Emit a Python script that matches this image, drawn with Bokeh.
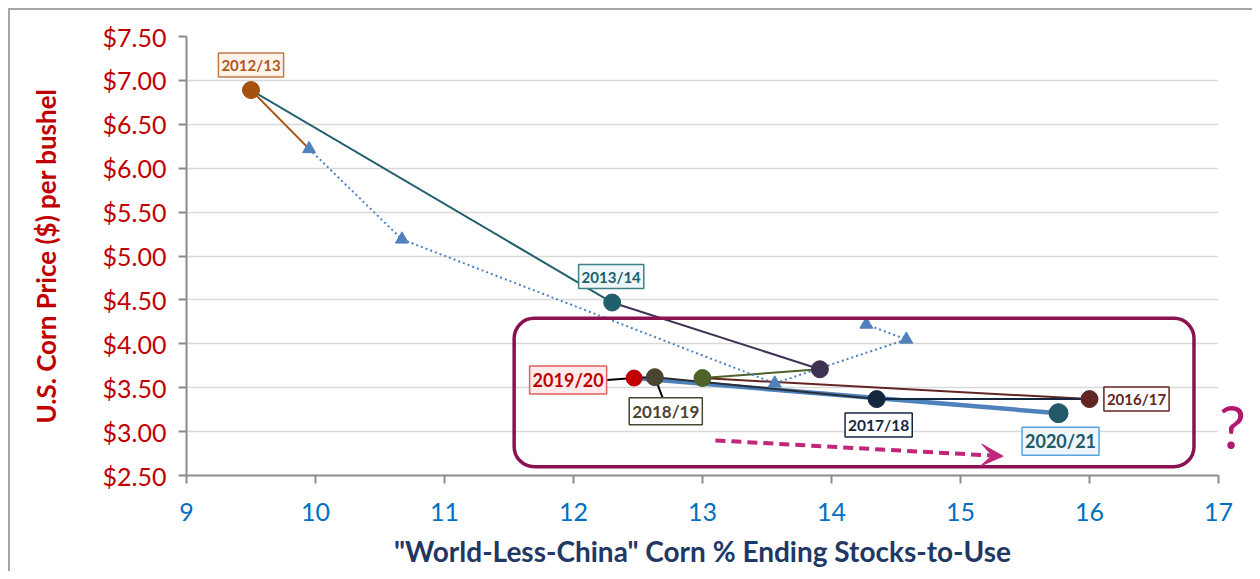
from bokeh.plotting import figure
from bokeh.layouts import row
from bokeh.models import (Range1d, FixedTicker, PrintfTickFormatter, Label,
                          BoxAnnotation, Arrow, VeeHead)
from bokeh.embed import file_html
from bokeh.resources import INLINE

# ---------------- data ----------------
years = ["2012/13", "2013/14", "2014/15", "2015/16", "2016/17",
         "2017/18", "2018/19", "2019/20", "2020/21"]
stocks_to_use = [9.50, 12.30, 13.91, 13.00, 16.00, 14.35, 12.63, 12.47, 15.76]
corn_price = [6.89, 4.47, 3.71, 3.61, 3.37, 3.37, 3.62, 3.61, 3.21]
point_colors = ["#A5520F", "#215F6B", "#3F3151", "#4F6228", "#632523",
                "#14273F", "#4A4530", "#C00000", "#215968"]
point_sizes = [17, 17, 17, 17, 17, 17, 17, 16, 19]

proj_x = [9.95, 10.67, 13.56, 14.58, 14.27]
proj_y = [6.22, 5.19, 3.55, 4.05, 4.22]

x_ticks = [9, 10, 11, 12, 13, 14, 15, 16, 17]
y_ticks = [2.5, 3.0, 3.5, 4.0, 4.5, 5.0, 5.5, 6.0, 6.5, 7.0, 7.5]

FONT = "Lato"

# ---------------- figure ----------------
W, H = 1244, 563
FW, FH = 1032, 439
BL, BT = 176, 26
p = figure(width=W, height=H, x_range=Range1d(9, 17), y_range=Range1d(2.5, 7.5),
           output_backend="svg", toolbar_location=None,
           min_border_left=BL, min_border_top=BT, min_border_right=W - BL - FW,
           min_border_bottom=H - BT - FH)
p.outline_line_color = None
p.background_fill_color = "white"
p.border_fill_color = "white"
p.styles = {"margin-left": "8px", "margin-top": "8px",
            "border-top": "2px solid #A6A6A6", "border-left": "2px solid #A6A6A6"}

px_x = FW / (17 - 9)
px_y = FH / (7.5 - 2.5)

p.xgrid.grid_line_color = None
p.ygrid.grid_line_color = "#D9D9D9"
p.ygrid.grid_line_width = 1.5
p.ygrid.ticker = FixedTicker(ticks=y_ticks)

p.yaxis.ticker = FixedTicker(ticks=y_ticks)
p.yaxis.formatter = PrintfTickFormatter(format="$%.2f")
p.xaxis.ticker = FixedTicker(ticks=x_ticks)
for ax in (p.xaxis, p.yaxis):
    ax.axis_line_color = "#8C8C8C"
    ax.axis_line_width = 2
    ax.major_tick_line_color = "#8C8C8C"
    ax.major_tick_line_width = 2
    ax.major_tick_out = 8
    ax.major_tick_in = 0
    ax.minor_tick_line_color = None
    ax.major_label_text_font = FONT
    ax.major_label_text_font_size = "25px"
p.yaxis.major_label_text_color = "#C00000"
p.yaxis.major_label_standoff = 12
p.xaxis.major_label_text_color = "#0070C0"
p.xaxis.major_label_standoff = 19

p.yaxis.axis_label = "U.S. Corn Price ($) per bushel"
p.yaxis.axis_label_text_font = FONT
p.yaxis.axis_label_text_font_style = "bold"
p.yaxis.axis_label_text_font_size = "26px"
p.yaxis.axis_label_text_color = "#C00000"
p.yaxis.axis_label_standoff = 38

p.xaxis.axis_label = '"World-Less-China" Corn % Ending Stocks-to-Use'
p.xaxis.axis_label_text_font = FONT
p.xaxis.axis_label_text_font_style = "bold"
p.xaxis.axis_label_text_font_size = "28px"
p.xaxis.axis_label_text_color = "#1F3864"
p.xaxis.axis_label_standoff = 10

# ---------------- lines ----------------
p.line(stocks_to_use[7:9], corn_price[7:9], line_color="#4F81BD", line_width=4.5)
seg_colors = ["#215F6B", "#3F3151", "#4F6228", "#632523", "#14273F", "#2A2F35", "#1A1A1A"]
for i in range(7):
    p.line(stocks_to_use[i:i + 2], corn_price[i:i + 2], line_color=seg_colors[i], line_width=2)
p.line([stocks_to_use[0], proj_x[0]], [corn_price[0], proj_y[0]], line_color="#A5520F", line_width=2)
p.line(proj_x, proj_y, line_color="#4F81BD", line_width=2, line_dash="2 3")
p.scatter(proj_x, proj_y, marker="triangle", size=13, fill_color="#4F81BD", line_color="#4F81BD")

# label connectors
p.line([stocks_to_use[7], stocks_to_use[7] - 27 / px_x], [corn_price[7], corn_price[7] - 2 / px_y],
       line_color="black", line_width=2)
p.line([stocks_to_use[6], stocks_to_use[6] + 8 / px_x], [corn_price[6], corn_price[6] - 21 / px_y],
       line_color="black", line_width=2)

p.scatter(stocks_to_use, corn_price, marker="circle", size=point_sizes,
          fill_color=point_colors, line_color=point_colors)

# ---------------- labels ----------------
lab = [
    (0, 0, 25, "15px", "#B0581A", "#FDF3EB", "#C07A45"),
    (1, -1, 26, "15px", "#215F6B", "#EEF6F7", "#3E7F8A"),
    (4, 47, 0, "15px", "#632523", "white", "#632523"),
    (5, 2, -26, "15.5px", "#14273F", "white", "#14273F"),
    (6, 11, -34, "17px", "#4A4530", "white", "#4A4530"),
    (7, -66, -2, "18px", "#C00000", "#FDEBEB", "#E06060"),
    (8, 2, -28, "18px", "#215968", "#EFF6FB", "#5BA3D9"),
]
for idx, dx, dy, fs, tc, fc, bc in lab:
    p.add_layout(Label(x=stocks_to_use[idx], y=corn_price[idx], x_offset=dx, y_offset=dy,
                       text=years[idx], text_align="center", text_baseline="middle",
                       text_font=FONT, text_font_style="bold", text_font_size=fs,
                       text_color=tc, background_fill_color=fc, border_line_color=bc,
                       border_line_width=1.5, padding=3))

p.add_layout(BoxAnnotation(left=11.54, right=16.81, top=4.29, bottom=2.60,
                           fill_color=None, fill_alpha=0, line_color="#8B1252",
                           line_alpha=1.0, line_width=3.5, border_radius=20))

p.add_layout(Arrow(end=VeeHead(size=22, fill_color="#C0267A", line_color="#C0267A"),
                   x_start=13.10, y_start=2.90, x_end=15.33, y_end=2.72,
                   line_color="#C0267A", line_width=4, line_dash="10 6"))

# ------- transparent overlay (same canvas) for the "?" right of the plot frame -------
q = figure(width=W, height=H, x_range=Range1d(0, W), y_range=Range1d(BT + FH, BT),
           output_backend="svg", toolbar_location=None, x_axis_type=None, y_axis_type=None,
           min_border=0, min_border_left=0, min_border_right=0, min_border_top=0,
           min_border_bottom=0)
q.grid.visible = False
q.outline_line_color = None
q.background_fill_alpha = 0
q.border_fill_alpha = 0
q.styles = {"margin-left": f"-{W}px", "margin-top": "10px"}

q.add_layout(Label(x=BL + FW + 16, y=BT + FH - 50, text="?",
                   text_align="center", text_baseline="middle",
                   text_font=FONT, text_font_size="60px", text_font_style="normal",
                   text_color="#B5176F"))

layout = row(p, q)
open("out.html", "w").write(file_html(layout, INLINE))
